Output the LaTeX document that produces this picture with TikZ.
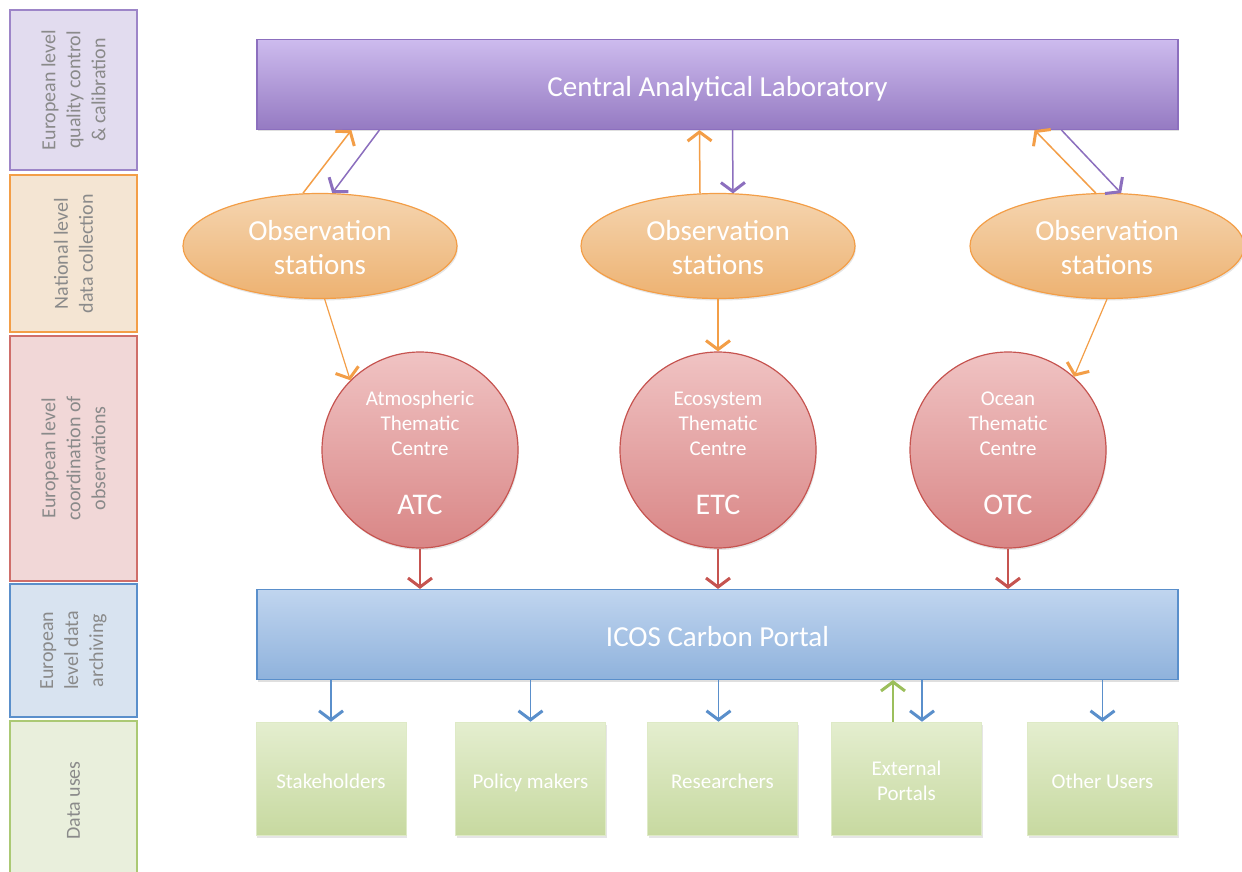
\documentclass[tikz,border=0pt]{standalone}
\usepackage{fontspec}
\setmainfont{Carlito}
\usetikzlibrary{arrows.meta,shapes.geometric,shadows,calc}
\definecolor{purTop}{HTML}{CDBBEE}
\definecolor{purBot}{HTML}{957AC2}
\definecolor{purLine}{HTML}{8C6FBE}
\definecolor{oraTop}{HTML}{F5D5B0}
\definecolor{oraBot}{HTML}{EDB271}
\definecolor{oraLine}{HTML}{F39E47}
\definecolor{redTop}{HTML}{F0C3C3}
\definecolor{redBot}{HTML}{D98686}
\definecolor{redLine}{HTML}{C65450}
\definecolor{bluTop}{HTML}{C0D5EF}
\definecolor{bluBot}{HTML}{8FB2DC}
\definecolor{bluLine}{HTML}{5A8FCB}
\definecolor{grnTop}{HTML}{E4EECF}
\definecolor{grnBot}{HTML}{C7D9A0}
\definecolor{grnLine}{HTML}{9CBF5C}
\definecolor{bandText}{HTML}{8A8A8A}
\begin{document}
\begin{tikzpicture}[x=1pt,y=-1pt,
  band/.style={rectangle, rotate=90, line width=1.5pt, align=center,
    text=bandText, font=\fontsize{20}{25}\selectfont, inner sep=0pt},
  bigbox/.style={rectangle, minimum width=921pt, minimum height=90pt,
    line width=1.2pt, text=white, font=\fontsize{29}{34}\selectfont,
    text height=28pt, text depth=4pt,
    drop shadow={opacity=0.25, shadow xshift=1pt, shadow yshift=-2pt}},
  obs/.style={ellipse, minimum width=274pt, minimum height=105pt, inner sep=0pt,
    draw=oraLine, line width=1.2pt, top color=oraTop, bottom color=oraBot,
    text=white, align=center, font=\fontsize{29}{34}\selectfont,
    drop shadow={opacity=0.2, shadow xshift=1pt, shadow yshift=-2pt}},
  centre/.style={circle, minimum size=196pt, inner sep=0pt,
    draw=redLine, line width=1.2pt, top color=redTop, bottom color=redBot,
    text=white, align=center, font=\fontsize{21}{25}\selectfont,
    drop shadow={opacity=0.2, shadow xshift=1pt, shadow yshift=-2pt}},
  user/.style={rectangle, minimum width=150pt, minimum height=113pt, inner sep=0pt,
    draw=grnTop!80!grnBot, line width=0.6pt, top color=grnTop, bottom color=grnBot,
    text=white, align=center, font=\fontsize{21}{25}\selectfont,
    drop shadow={opacity=0.2, shadow xshift=1pt, shadow yshift=-3pt}},
  conn/.style={line width=1.5pt, -{Straight Barb[length=9pt,width=24pt,line width=3pt]}},
]
\clip (0,0) rectangle (1242,872);
\fill[white] (0,0) rectangle (1242,872);

% left bands
\node[band, draw=purLine!85, fill=purTop!40!white!92!gray, minimum width=160pt, minimum height=127pt]
  (b1) at (73.5,90) {European level\\quality control\\\& calibration};
\node[band, draw=oraLine, fill=oraTop!50!white!95!gray, minimum width=157pt, minimum height=127pt]
  (b2) at (73.5,253.5) {National level\\data collection};
\node[band, draw=redLine!85, fill=redTop!60!white!96!gray, minimum width=245pt, minimum height=127pt]
  (b3) at (73.5,458.5) {European level\\coordination of\\observations};
\node[band, draw=bluLine, fill=bluTop!55!white!95!gray, minimum width=133pt, minimum height=127pt]
  (b4) at (73.5,650.5) {European\\level data\\archiving};
\node[band, draw=grnLine!85, fill=grnTop!65!white!96!gray, minimum width=159pt, minimum height=127pt]
  (b5) at (73.5,800.5) {Data uses};

% main boxes
\node[bigbox, draw=purLine, top color=purTop, bottom color=purBot]
  (cal) at (717.5,84.5) {Central Analytical Laboratory};
\node[bigbox, draw=bluLine, top color=bluTop, bottom color=bluBot]
  (icos) at (717.5,634.5) {ICOS Carbon Portal};

% observation stations
\node[obs] (obs1) at (320,246) {\rule{0pt}{24pt}Observation\\stations};
\node[obs] (obs2) at (718,246) {\rule{0pt}{24pt}Observation\\stations};
\node[obs] (obs3) at (1107,246) {\rule{0pt}{24pt}Observation\\stations};

% thematic centres
\node[centre] (atc) at (420,450) {\rule{0pt}{21pt}Atmospheric\\Thematic\\Centre\\[34pt]{\fontsize{30}{25}\selectfont ATC}};
\node[centre] (etc) at (718,450) {\rule{0pt}{21pt}Ecosystem\\Thematic\\Centre\\[34pt]{\fontsize{30}{25}\selectfont ETC}};
\node[centre] (otc) at (1008,450) {\rule{0pt}{21pt}Ocean\\Thematic\\Centre\\[34pt]{\fontsize{30}{25}\selectfont OTC}};

% users
\node[user, text height=20pt, text depth=0pt] (sh) at (331,778.5) {Stakeholders};
\node[user, text height=20pt, text depth=0pt] (pm) at (530.5,778.5) {Policy makers};
\node[user, text height=20pt, text depth=0pt] (rs) at (722.5,778.5) {Researchers};
\node[user] (ep) at (906.5,778.5) {\rule{0pt}{20pt}External\\Portals};
\node[user, text height=20pt, text depth=0pt] (ou) at (1102.5,778.5) {Other Users};

% CAL <-> observation stations
\draw[conn, oraLine] (obs1.108) -- ($(cal.south west)+(95,0)$);
\draw[conn, purLine] ($(cal.south west)+(123,0)$) -- (obs1.77);
\draw[conn, oraLine] ($(obs2.north)+(-18,0.5)$) -- ($(cal.south)+(-18,0)$);
\draw[conn, purLine] ($(cal.south)+(15,0)$) -- ($(obs2.north)+(15,0.5)$);
\draw[conn, oraLine] (obs3.102) -- ($(cal.south)+(317,0)$);
\draw[conn, purLine] ($(cal.south)+(344,0)$) -- (obs3.75);

% observation stations -> centres
\draw[conn, oraLine, line width=1.2pt] (obs1.-85) -- (atc.135);
\draw[conn, oraLine, line width=1.2pt] (obs2.south) -- (etc.north);
\draw[conn, oraLine, line width=1.2pt] (obs3.-90) -- (otc.48);

% centres -> portal
\draw[conn, redLine] (atc.south) -- (atc.south |- icos.north);
\draw[conn, redLine] (etc.south) -- (etc.south |- icos.north);
\draw[conn, redLine] (otc.south) -- (otc.south |- icos.north);

% portal -> users
\draw[conn, bluLine] (icos.south -| sh.north) -- (sh.north);
\draw[conn, bluLine] (icos.south -| pm.north) -- (pm.north);
\draw[conn, bluLine] ($(icos.south -| rs.north)+(-4,0)$) -- ($(rs.north)+(-4,0)$);
\draw[conn, bluLine] ($(icos.south -| ep.north)+(15.5,0)$) -- ($(ep.north)+(15.5,0)$);
\draw[conn, bluLine] (icos.south -| ou.north) -- (ou.north);
\draw[conn, grnLine] ($(ep.north)+(-13.5,0)$) -- ($(icos.south -| ep.north)+(-13.5,0)$);
\end{tikzpicture}
\end{document}
